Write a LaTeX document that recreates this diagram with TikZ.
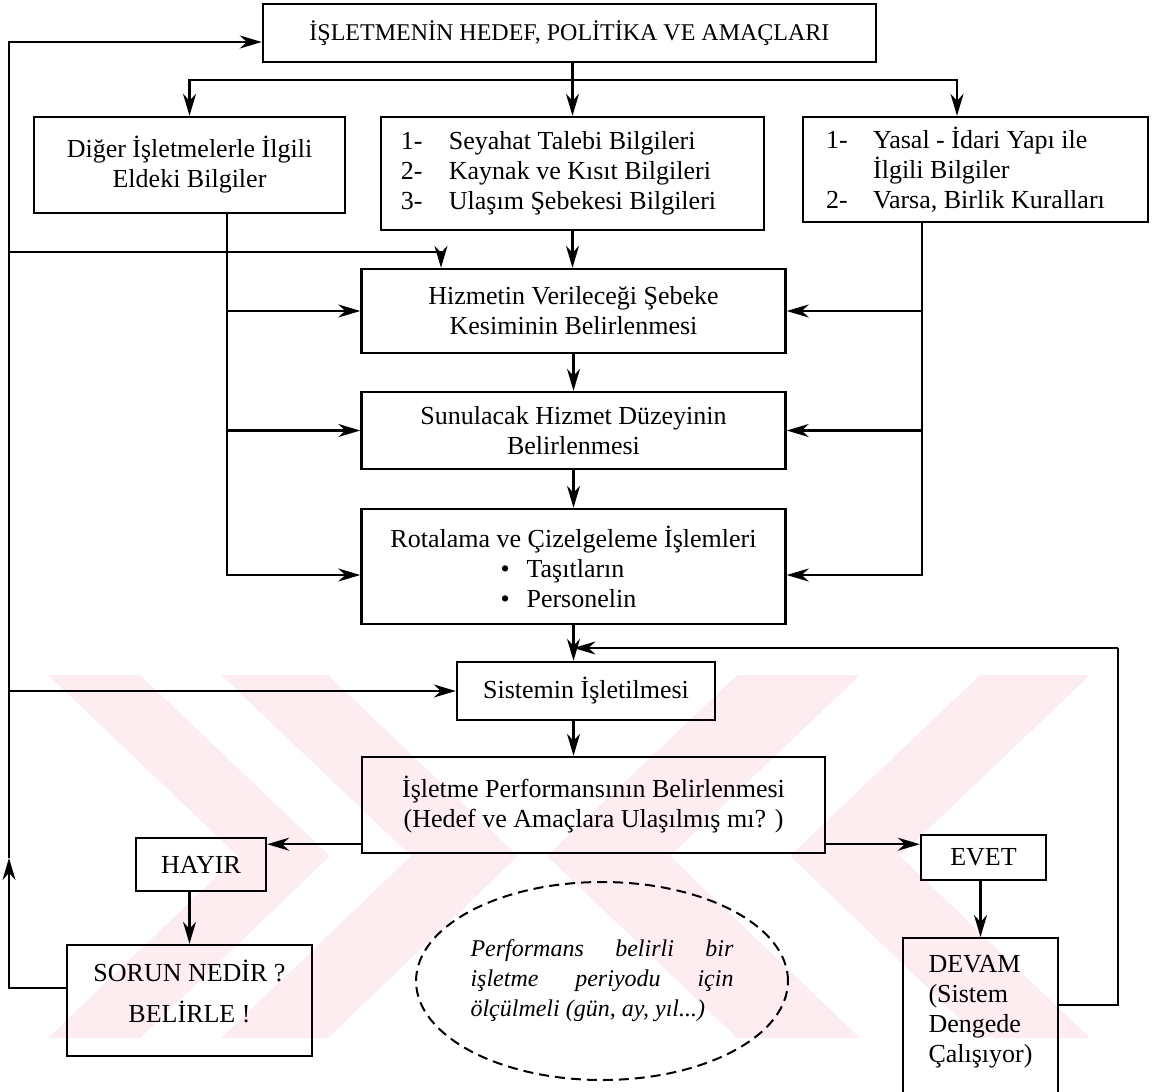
\documentclass[tikz,border=0pt]{standalone}
\usepackage{fontspec}
\setmainfont{Liberation Serif}
\usetikzlibrary{arrows.meta,positioning,shapes.geometric,backgrounds}
\definecolor{wmark}{RGB}{253,236,240}

\begin{document}
\begin{tikzpicture}[x=1pt,y=-1pt,
	>={Stealth[length=22pt,width=13pt,inset=7pt]},
	every path/.style={line width=2.2pt},
	every node/.style={font=\fontsize{26}{30}\selectfont},
	box/.style={draw,rectangle,line width=2.4pt,inner sep=0pt,align=center}]
	\useasboundingbox (0,0) rectangle (1155,1091);
	% watermark
	\fill[wmark] (48,675) -- (140,675) -- (330,856) -- (140,1038) -- (48,1038) -- (238,856) -- cycle;
	\fill[wmark] (221,675) -- (328,675) -- (518,856) -- (328,1038) -- (221,1038) -- (411,856) -- cycle;
	\fill[wmark] (737,675) -- (860,675) -- (670,856) -- (860,1038) -- (737,1038) -- (547,856) -- cycle;
	\fill[wmark] (980,675) -- (1090,675) -- (900,856) -- (1090,1038) -- (980,1038) -- (790,856) -- cycle;

	\path (569.5,33) node (top) [box,minimum width=613pt,minimum height=58pt] {\fontsize{24}{28}\selectfont İŞLETMENİN HEDEF, POLİTİKA VE AMAÇLARI}
		  (189.5,165) node (dig) [box,minimum width=311pt,minimum height=96pt] {Diğer İşletmelerle İlgili\\Eldeki Bilgiler}
		  (572.5,173.5) node (info) [box,minimum width=383pt,minimum height=113pt,align=left] {\makebox[48pt][l]{1-}Seyahat Talebi Bilgileri\\\makebox[48pt][l]{2-}Kaynak ve Kısıt Bilgileri\\\makebox[48pt][l]{3-}Ulaşım Şebekesi Bilgileri\hspace*{28pt}}
		  (975.5,169.5) node (law) [box,minimum width=345pt,minimum height=105pt,align=left] {\makebox[47pt][l]{1-}Yasal - İdari Yapı ile\\\hspace*{47pt}İlgili Bilgiler\\\makebox[47pt][l]{2-}Varsa, Birlik Kuralları\hspace*{20pt}}
		  (573.5,311) node (hiz) [box,minimum width=424pt,minimum height=84pt] {Hizmetin Verileceği Şebeke\\Kesiminin Belirlenmesi}
		  (573.5,430.5) node (sun) [box,minimum width=424pt,minimum height=77pt] {Sunulacak Hizmet Düzeyinin\\Belirlenmesi}
		  (573.5,566.5) node (rot) [box,minimum width=424pt,minimum height=115pt] {Rotalama ve Çizelgeleme İşlemleri\\\makebox[146pt][l]{\textbullet\hspace{17pt}Taşıtların}\\\makebox[146pt][l]{\textbullet\hspace{17pt}Personelin}}
		  (586,691) node (sis) [box,minimum width=258pt,minimum height=58pt] {Sistemin İşletilmesi}
		  (593.5,805) node (perf) [box,minimum width=463pt,minimum height=96pt] {İşletme Performansının Belirlenmesi\\(Hedef ve Amaçlara Ulaşılmış mı? )}
		  (201,864.5) node (hayir) [box,minimum width=130pt,minimum height=53pt] {HAYIR}
		  (189.5,1000.5) node (sorun) [box,minimum width=245pt,minimum height=111pt] {SORUN NEDİR ?\\[11pt]BELİRLE !\\[-11pt]\mbox{}}
		  (983.5,857.5) node (evet) [box,minimum width=125pt,minimum height=45pt] {EVET}
		  (980.5,937) node (devam) [box,anchor=north,minimum width=155pt,align=left,inner ysep=17pt,text depth=140pt] {DEVAM\\(Sistem\\Dengede\\Çalışıyor)}
		  (602,981) node (note) [ellipse,draw,dash pattern=on 10pt off 6pt,line width=2pt,minimum width=364pt,minimum height=198pt,inner sep=0pt] {\parbox{263pt}{\itshape\fontsize{24}{30}\selectfont Performans\hfill belirli\hfill bir\\işletme\hfill periyodu\hfill için\\ölçülmeli (gün, ay, yıl...)}};

	\coordinate (split) at (572,80);
	\coordinate (dl) at ([xshift=37.5pt]dig.south);
	\coordinate (dr) at ([xshift=-53.5pt]law.south);
	\coordinate (lup) at (9,858);
	\coordinate (lmid) at (9,252);
	\coordinate (hizin) at ([xshift=-132.5pt]hiz.north);
	\coordinate (rlow) at (1118,1005);
	\coordinate (rup) at (1118,648);
	\coordinate (pl) at ([yshift=10pt]perf.south west);
	\coordinate (pr) at ([yshift=10pt]perf.south east);

	\draw[->] (top.south -| info.north) -- (info.north);
	\draw[->] (split) -| (dig.north);
	\draw[->] (split) -| ([xshift=-18.5pt]law.north);
	\draw[->] (info.south) -- (hiz.north -| info.south);
	\draw[->] (hiz) -- (sun);
	\draw[->] (sun) -- (rot);
	\draw[->] (dl) |- ([yshift=-8.5pt]rot.west);
	\draw[->] (dl |- hiz.west) -- (hiz.west);
	\draw[->] (dl |- sun.west) -- (sun.west);
	\draw[->] (dr) |- ([yshift=-8.5pt]rot.east);
	\draw[->] (dr |- hiz.east) -- (hiz.east);
	\draw[->] (dr |- sun.east) -- (sun.east);
	\draw[->] (rot.south) -- (rot.south |- sis.north);
	\draw[->] (rot.south |- sis.south) -- (rot.south |- perf.north);
	\draw[->] (pl) -- (hayir.east |- pl);
	\draw[->] (pr) -- (evet.west |- pr);
	\draw[->] (sorun.north |- hayir.south) -- (sorun.north);
	\draw[->] (devam.north |- evet.south) -- (devam.north);
	\draw[->] ([yshift=12.5pt]sorun.west) -| (lup);
	\draw[->] (lup) |- ([yshift=-9pt]top.west);
	\draw[->] (lmid) -| (hizin);
	\draw[->] (lup |- sis.west) -- (sis.west);
	\draw (devam.east |- rlow) -- (rlow) -- (rup);
	\draw[->] (rup) -- (rot.south |- rup);
\end{tikzpicture}
\end{document}
